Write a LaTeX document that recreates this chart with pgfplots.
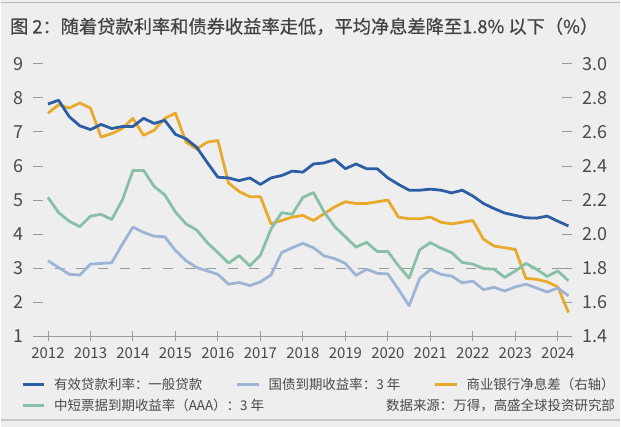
\documentclass[border=0pt]{standalone}
\usepackage{fontspec}
\setmainfont{Noto Sans CJK SC}
\newfontfamily\titlefont[FakeBold=0.5]{Noto Sans CJK SC}
\usepackage{pgfplots}
\pgfplotsset{compat=1.18}
\definecolor{bg}{HTML}{EEEEEE}
\definecolor{cblue}{HTML}{2D5EA4}
\definecolor{clight}{HTML}{9DB4D6}
\definecolor{corange}{HTML}{E9A92A}
\definecolor{cgreen}{HTML}{88BFA7}
\definecolor{ctext}{HTML}{4A4A4A}
\definecolor{ctick}{HTML}{9A9A9A}
\pgfplotsset{
  base/.style={
    scale only axis, width=540.7pt, height=273.3pt,
    at={(32.3pt,90.7pt)}, anchor=south west,
    xmin=2011.65, xmax=2024.34,
    tick align=inside, major tick length=10pt,
    legend style={draw=none, fill=none, inner sep=0pt, outer sep=0pt,
      font=\fontsize{13.5}{14}\selectfont, text=ctext, legend columns=3,
      /tikz/every odd column/.append style={column sep=8.3pt},
      /tikz/every even column/.append style={column sep=33pt},
      nodes={inner sep=0pt}, anchor=west},
    legend cell align=left,
    legend image code/.code={\draw[##1, line width=3.5pt] (0pt,0pt) -- (21.7pt,0pt);},
  },
  dl/.style={line width=2.8pt, line join=round},
}
\begin{document}
\begin{tikzpicture}[x=1pt,y=1pt]
\fill[bg] (0,0) rectangle (621,428);
\draw[ctick!70, line width=1.2pt] (0,425.3) -- (621,425.3);
\draw[ctick!55, line width=1.8pt] (0,6.5) -- (621,6.5);
\node[anchor=west, inner sep=0pt, text=ctext!90!black, font=\titlefont\fontsize{18.3}{20}\selectfont] at (9,401.5) {图 2：随着贷款利率和债券收益率走低，平均净息差降至1.8\% 以下（\%）};
\node[anchor=east, inner sep=0pt, text=ctext, font=\fontsize{13.5}{14}\selectfont] at (616,21.5) {数据来源：万得，高盛全球投资研究部};

% right axis: net interest margin
\begin{axis}[base,
  ymin=1.4, ymax=3.0,
  axis x line=none, axis y line*=right, y axis line style={draw=none},
  ytick={1.4,1.6,1.8,2.0,2.2,2.4,2.6,2.8,3.0},
  ytick style={ctick, line width=0.9pt},
  yticklabel style={anchor=west, inner sep=0pt, xshift=10pt, text=ctext,
    font=\fontsize{18}{18}\selectfont,
    /pgf/number format/.cd, fixed, fixed zerofill, precision=1, assume math mode=true},
  legend style={at={(-0.02275,-0.2532)}},
]
\addplot[corange, dl, forget plot] table {
x y
2012.00 2.71
2012.25 2.76
2012.50 2.74
2012.75 2.77
2013.00 2.74
2013.25 2.57
2013.50 2.59
2013.75 2.62
2014.00 2.68
2014.25 2.58
2014.50 2.61
2014.75 2.68
2015.00 2.71
2015.25 2.54
2015.50 2.50
2015.75 2.54
2016.00 2.55
2016.25 2.30
2016.50 2.25
2016.75 2.22
2017.00 2.22
2017.25 2.06
2017.50 2.08
2017.75 2.10
2018.00 2.11
2018.25 2.08
2018.50 2.12
2018.75 2.16
2019.00 2.19
2019.25 2.18
2019.50 2.18
2019.75 2.19
2020.00 2.20
2020.25 2.10
2020.50 2.09
2020.75 2.09
2021.00 2.10
2021.25 2.07
2021.50 2.06
2021.75 2.07
2022.00 2.08
2022.25 1.97
2022.50 1.93
2022.75 1.92
2023.00 1.91
2023.25 1.74
2023.50 1.735
2023.75 1.72
2024.00 1.69
2024.25 1.54
};
\addlegendimage{cgreen, line width=2.8pt}
\addlegendentry{中短票据到期收益率（AAA）：3 年}
\end{axis}

% left axis
\begin{axis}[base,
  ymin=1, ymax=9,
  axis x line*=bottom, axis y line*=left, y axis line style={draw=none},
  x axis line style={ctick, line width=1pt},
  xtick={2012,2013,...,2024}, ytick={1,2,...,9},
  xtick style={ctick, line width=0.9pt, yshift=-5pt},
  ytick style={ctick, line width=0.9pt},
  xticklabel style={anchor=center, yshift=-16.7pt, text=ctext,
    font=\fontsize{15}{15}\selectfont, /pgf/number format/.cd, 1000 sep={}, assume math mode=true},
  yticklabel style={anchor=east, inner sep=0pt, xshift=-9.3pt, text=ctext,
    font=\fontsize{18}{18}\selectfont, /pgf/number format/assume math mode=true},
  legend style={at={(-0.02275,-0.1775)}},
]
\addplot[ctick, line width=0.9pt, dash pattern=on 10pt off 11.7pt, forget plot] coordinates {(2011.65,3) (2024.34,3)};
\addplot[cblue, dl] table {
x y
2012.00 7.82
2012.25 7.93
2012.50 7.45
2012.75 7.18
2013.00 7.07
2013.25 7.22
2013.50 7.10
2013.75 7.16
2014.00 7.16
2014.25 7.40
2014.50 7.25
2014.75 7.34
2015.00 6.93
2015.25 6.80
2015.50 6.55
2015.75 6.10
2016.00 5.67
2016.25 5.65
2016.50 5.57
2016.75 5.65
2017.00 5.46
2017.25 5.65
2017.50 5.72
2017.75 5.85
2018.00 5.82
2018.25 6.06
2018.50 6.09
2018.75 6.19
2019.00 5.92
2019.25 6.06
2019.50 5.92
2019.75 5.92
2020.00 5.65
2020.25 5.46
2020.50 5.29
2020.75 5.29
2021.00 5.32
2021.25 5.29
2021.50 5.21
2021.75 5.29
2022.00 5.12
2022.25 4.90
2022.50 4.75
2022.75 4.62
2023.00 4.55
2023.25 4.48
2023.50 4.47
2023.75 4.53
2024.00 4.38
2024.25 4.24
};
\addlegendentry{有效贷款利率：一般贷款}
\addplot[clight, dl] table {
x y
2012.00 3.22
2012.25 3.02
2012.50 2.82
2012.75 2.80
2013.00 3.12
2013.25 3.14
2013.50 3.16
2013.75 3.70
2014.00 4.21
2014.25 4.05
2014.50 3.94
2014.75 3.92
2015.00 3.52
2015.25 3.22
2015.50 3.02
2015.75 2.92
2016.00 2.82
2016.25 2.53
2016.50 2.58
2016.75 2.49
2017.00 2.60
2017.25 2.80
2017.50 3.46
2017.75 3.60
2018.00 3.73
2018.25 3.60
2018.50 3.36
2018.75 3.28
2019.00 3.14
2019.25 2.79
2019.50 2.97
2019.75 2.85
2020.00 2.83
2020.25 2.38
2020.50 1.90
2020.75 2.70
2021.00 2.96
2021.25 2.82
2021.50 2.77
2021.75 2.57
2022.00 2.62
2022.25 2.37
2022.50 2.44
2022.75 2.33
2023.00 2.45
2023.25 2.53
2023.50 2.42
2023.75 2.30
2024.00 2.42
2024.25 2.19
};
\addlegendentry{国债到期收益率：3 年}
\addlegendimage{corange, line width=2.8pt}
\addlegendentry{商业银行净息差（右轴）}
\addplot[cgreen, dl, forget plot] table {
x y
2012.00 5.08
2012.25 4.63
2012.50 4.38
2012.75 4.22
2013.00 4.53
2013.25 4.58
2013.50 4.43
2013.75 5.00
2014.00 5.87
2014.25 5.87
2014.50 5.40
2014.75 5.15
2015.00 4.65
2015.25 4.30
2015.50 4.12
2015.75 3.75
2016.00 3.46
2016.25 3.15
2016.50 3.37
2016.75 3.07
2017.00 3.38
2017.25 4.15
2017.50 4.63
2017.75 4.58
2018.00 5.08
2018.25 5.22
2018.50 4.65
2018.75 4.22
2019.00 3.92
2019.25 3.62
2019.50 3.76
2019.75 3.49
2020.00 3.49
2020.25 3.07
2020.50 2.71
2020.75 3.54
2021.00 3.75
2021.25 3.59
2021.50 3.46
2021.75 3.17
2022.00 3.12
2022.25 2.99
2022.50 2.97
2022.75 2.73
2023.00 2.92
2023.25 3.14
2023.50 2.97
2023.75 2.76
2024.00 2.92
2024.25 2.63
};
\end{axis}
\end{tikzpicture}
\end{document}
